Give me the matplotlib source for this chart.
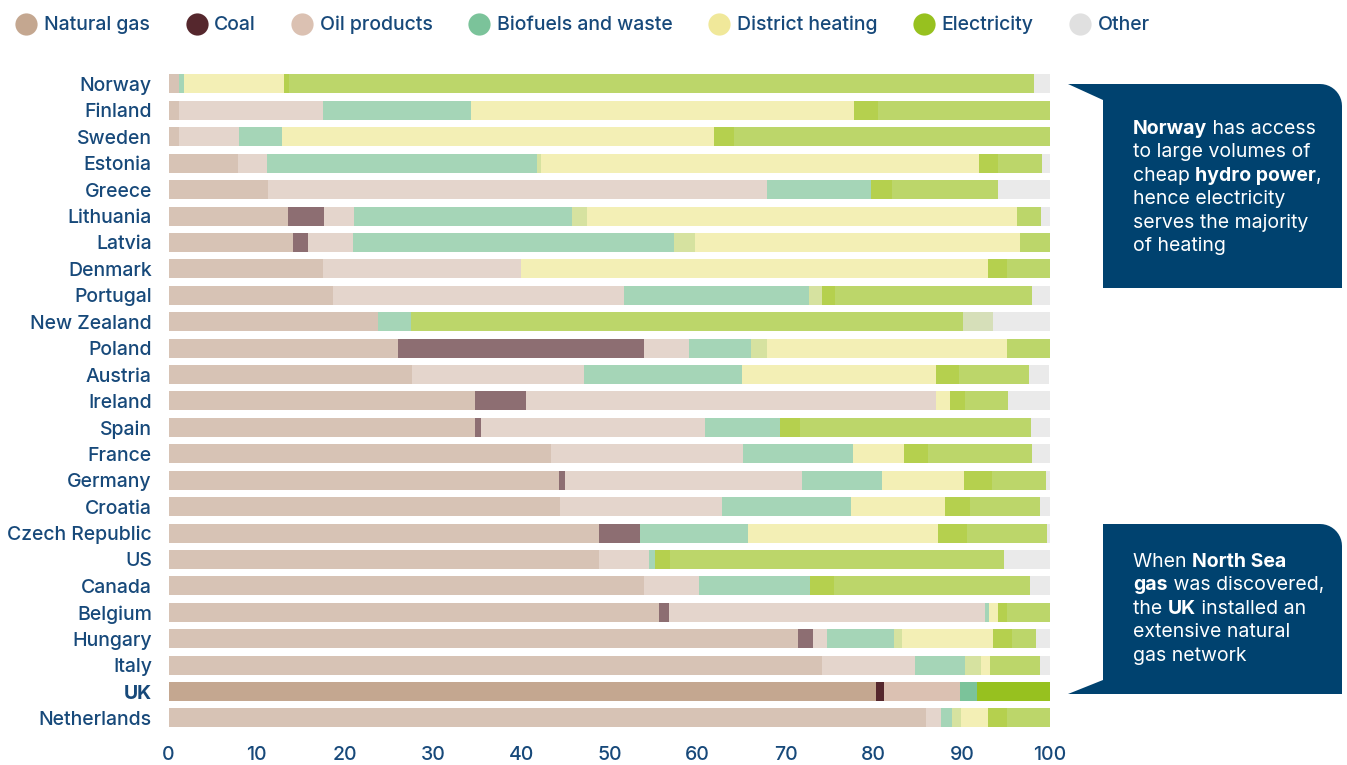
import matplotlib
matplotlib.use("Agg")
import matplotlib.pyplot as plt
import numpy as np
from matplotlib.lines import Line2D
from matplotlib.patches import PathPatch
from matplotlib.path import Path

plt.rcParams['font.family'] = ['Inter', 'DejaVu Sans']

countries = ['Norway', 'Finland', 'Sweden', 'Estonia', 'Greece', 'Lithuania', 'Latvia',
             'Denmark', 'Portugal', 'New Zealand', 'Poland', 'Austria', 'Ireland', 'Spain',
             'France', 'Germany', 'Croatia', 'Czech Republic', 'US', 'Canada', 'Belgium',
             'Hungary', 'Italy', 'UK', 'Netherlands']

# shares of heating demand (%)
gas = [1.2, 1.2, 1.2, 7.9, 11.3, 13.6, 14.1, 17.5, 18.7, 23.8, 26.0, 27.6, 34.8, 34.8,
       43.4, 44.3, 44.4, 48.8, 48.8, 53.9, 55.6, 71.4, 74.1, 80.3, 85.9]
coal = [0, 0, 0, 0, 0, 4.0, 1.7, 0, 0, 0, 27.9, 0, 5.8, 0.7, 0, 0.7, 0, 4.7, 0, 0, 1.2,
        1.7, 0, 0.9, 0]
oil = [0, 16.3, 6.8, 3.3, 56.6, 3.4, 5.1, 22.5, 33.0, 0, 5.1, 19.5, 46.4, 25.3, 21.8,
       26.9, 18.4, 0, 5.7, 6.3, 35.8, 1.6, 10.6, 8.6, 1.7]
bio = [0.6, 16.8, 4.9, 30.6, 11.8, 24.8, 36.4, 0, 21.0, 3.7, 7.1, 18.0, 0, 8.6, 12.4,
       9.0, 14.6, 12.2, 0.7, 12.6, 0.5, 7.6, 5.7, 1.9, 1.3]
bio_dh = [0, 0, 0, 0.5, 0, 1.7, 2.4, 0, 1.4, 0, 1.8, 0, 0, 0, 0, 0, 0, 0, 0, 0, 0, 0.9,
          1.8, 0, 1.0]
dh = [11.3, 43.5, 49.0, 49.6, 0, 48.7, 36.9, 52.9, 0, 0, 27.2, 22.0, 1.6, 0, 5.8, 9.3,
      10.7, 21.6, 0, 0, 1.0, 10.3, 1.0, 0, 3.1]
elec_a = [0.6, 2.7, 2.2, 2.2, 2.4, 0, 0, 2.2, 1.5, 0, 0, 2.6, 1.7, 2.2, 2.7, 3.2, 2.8,
          3.3, 1.7, 2.7, 1.0, 2.2, 0, 0, 2.1]
elec_b = [84.5, 19.5, 35.9, 5.0, 12.0, 2.8, 3.4, 4.9, 22.4, 62.6, 4.9, 7.9, 4.9, 26.2,
          11.8, 6.1, 8.0, 9.0, 37.9, 22.2, 4.9, 2.7, 5.7, 8.3, 4.9]
elec_other = [0, 0, 0, 0, 0, 0, 0, 0, 0, 3.4, 0, 0, 0, 0, 0, 0, 0, 0, 0, 0, 0, 0, 0, 0, 0]
other = [1.8, 0, 0, 1.0, 5.9, 1.0, 0, 0, 2.0, 6.5, 0, 2.3, 4.8, 2.2, 2.1, 0.6, 1.1, 0.4,
         5.2, 2.3, 0, 1.6, 1.1, 0, 0]

highlight = 'UK'

legend_names = ['Natural gas', 'Coal', 'Oil products', 'Biofuels and waste',
                'District heating', 'Electricity', 'Other']
legend_colors = ['#c4a790', '#55272d', '#dbc1b2', '#7bc39a', '#f0e89a', '#97c11f', '#e0e0e0']

series = [gas, coal, oil, bio, bio_dh, dh, elec_a, elec_b, elec_other, other]
faded = ['#d7c3b5', '#8d6e72', '#e4d5cc', '#a5d5b7', '#d6e2a0', '#f3efb5', '#b5d04e',
         '#bcd66a', '#d6dfb9', '#eaeaea']
strong = ['#c4a790', '#55272d', '#dbc1b2', '#7bc39a', '#c9de8c', '#f0e89a', '#97c11f',
          '#97c11f', '#c0d49a', '#e0e0e0']

blue = '#17497a'
box_blue = '#00426f'

fig = plt.figure(figsize=(13.47, 7.65), dpi=100)
ax = fig.add_axes([0.1251, 0.0442, 0.6545, 0.8633])

y = np.arange(len(countries))
left = np.zeros(len(countries))
for vals, cf, cs in zip(series, faded, strong):
    vals = np.array(vals, dtype=float)
    cols = [cs if c == highlight else cf for c in countries]
    ax.barh(y, vals, left=left, height=0.72, color=cols, linewidth=0)
    left += vals

ax.set_xlim(0, 100)
ax.set_ylim(len(countries) - 0.5, -0.5)
ax.set_yticks(y)
ax.set_yticklabels(countries)
ax.set_xticks(range(0, 101, 10))
for s in ax.spines.values():
    s.set_visible(False)
ax.tick_params(axis='y', length=0, pad=12, labelsize=14, labelcolor=blue)
ax.tick_params(axis='x', length=0, pad=10.5, labelsize=14, labelcolor=blue)
for lab in ax.get_yticklabels():
    lab.set_fontweight('bold' if lab.get_text() == highlight else 'medium')
for lab in ax.get_xticklabels():
    lab.set_fontweight('medium')

handles = [Line2D([], [], marker='o', linestyle='none', markersize=16,
                  markerfacecolor=c, markeredgewidth=0) for c in legend_colors]
fig.legend(handles, legend_names, loc='upper left', bbox_to_anchor=(-0.002, 1.002),
           ncol=7, frameon=False, handletextpad=0.3, columnspacing=1.8,
           handlelength=1.2, prop={'size': 14, 'weight': 'medium'}, labelcolor=blue)

# overlay for callouts, in pixel coordinates
ov = fig.add_axes([0, 0, 1, 1])
ov.set_xlim(0, 1347)
ov.set_ylim(765, 0)
ov.axis('off')
ov.patch.set_alpha(0)


def callout(x0, x1, y0, y1, tip, tip_top):
    r = 22
    ang = np.linspace(np.pi / 2, 0, 12)
    arc = [(x1 - r + r * np.cos(a), y0 + r - r * np.sin(a)) for a in ang]
    if tip_top:
        pts = [tip, (x0, y0)] + [(x1 - r, y0)] + arc + [(x1, y1), (x0, y1), (x0, y0 + 16), tip]
    else:
        pts = [(x0, y0)] + [(x1 - r, y0)] + arc + [(x1, y1), tip, (x0, y1 - 14), (x0, y0)]
    codes = [Path.MOVETO] + [Path.LINETO] * (len(pts) - 2) + [Path.CLOSEPOLY]
    ov.add_patch(PathPatch(Path(pts, codes), facecolor=box_blue, edgecolor='none'))


def rich_line(x, yy, parts):
    txt, w = parts[0]
    t = ov.text(x, yy, txt, fontsize=14, fontweight=w, color='white', va='center', ha='left')
    for txt, w in parts[1:]:
        t = ov.annotate(txt, xy=(1, 0), xycoords=t, va='bottom', ha='left',
                        fontsize=14, fontweight=w, color='white')


callout(1103, 1342, 84, 288, (1068, 84), True)
callout(1103, 1342, 524, 694, (1068, 694), False)

lines1 = [[('Norway', 'bold'), (' has access', 'normal')],
          [('to large volumes of', 'normal')],
          [('cheap ', 'normal'), ('hydro power', 'bold'), (',', 'normal')],
          [('hence electricity', 'normal')],
          [('serves the majority', 'normal')],
          [('of heating', 'normal')]]
lines2 = [[('When ', 'normal'), ('North Sea', 'bold')],
          [('gas', 'bold'), (' was discovered,', 'normal')],
          [('the ', 'normal'), ('UK', 'bold'), (' installed an', 'normal')],
          [('extensive natural', 'normal')],
          [('gas network', 'normal')]]
for i, parts in enumerate(lines1):
    rich_line(1133, 129 + i * 23.4, parts)
for i, parts in enumerate(lines2):
    rich_line(1133, 562 + i * 23.4, parts)

fig.savefig('out.png', dpi=100)
